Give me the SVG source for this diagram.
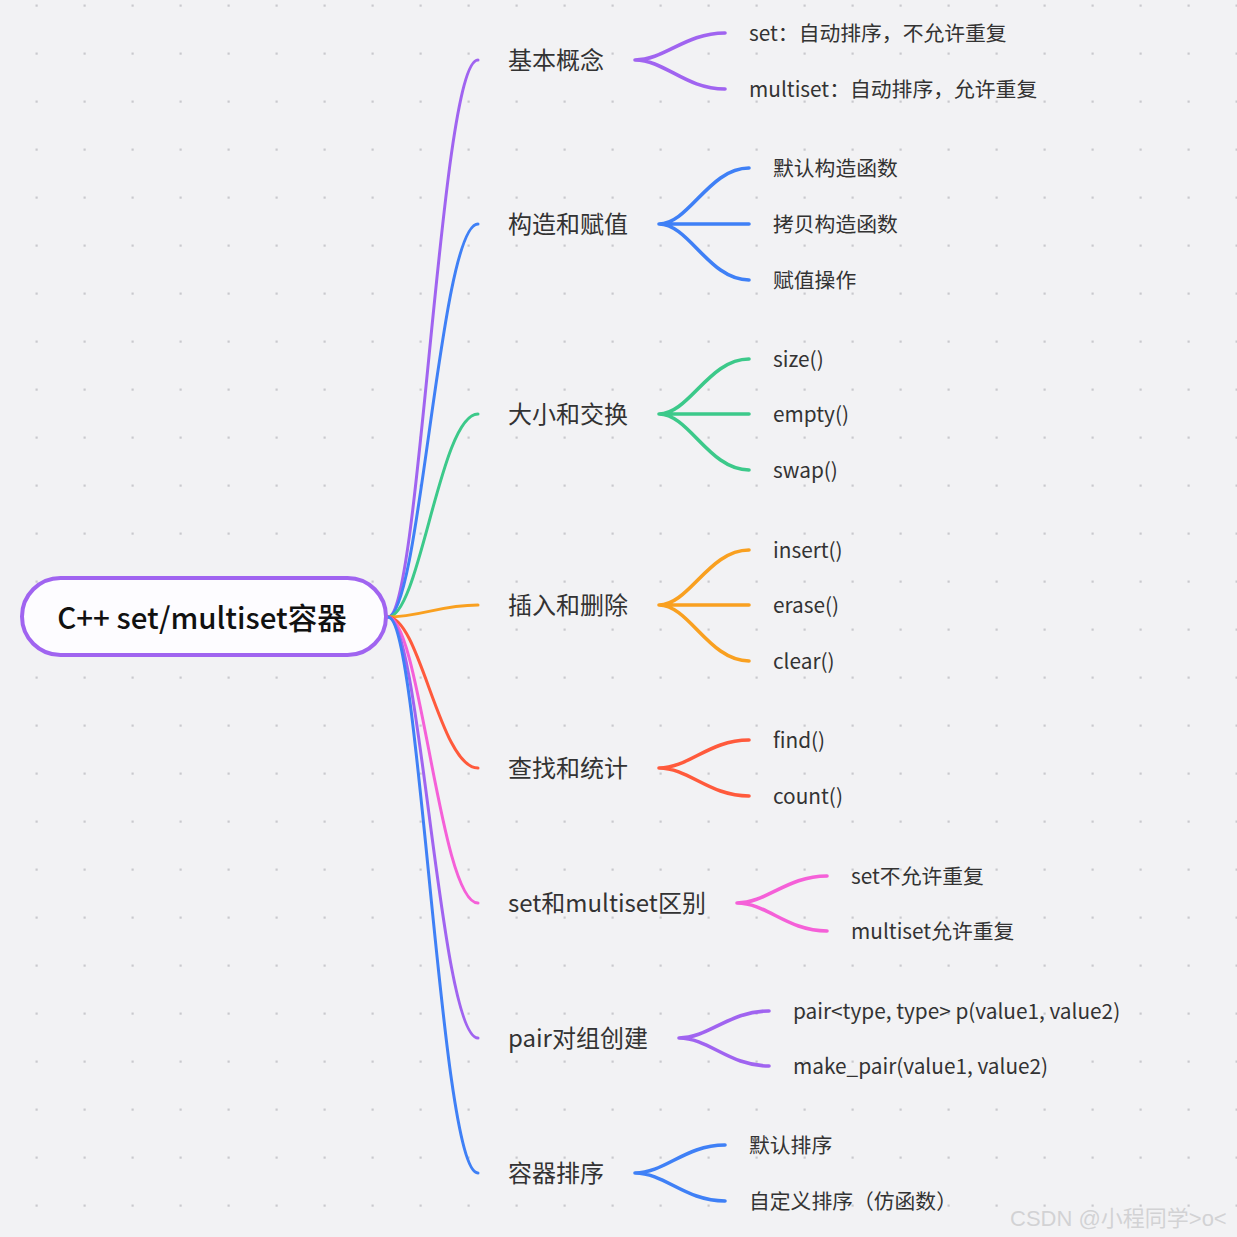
<svg xmlns="http://www.w3.org/2000/svg" width="1237" height="1237" viewBox="0 0 1237 1237">
<defs>
<pattern id="dots" x="0" y="0" width="48" height="48" patternUnits="userSpaceOnUse">
<rect x="35.5" y="4.5" width="2.2" height="2.2" fill="#c9c9cd"/>
</pattern>
<style>
.l1{font-family:"Noto Sans CJK SC","Noto Sans",sans-serif;font-size:24px;fill:#333333;}
.l2{font-family:"Noto Sans CJK SC","Noto Sans",sans-serif;font-size:20.8px;fill:#333333;}
.root{font-family:"Noto Sans CJK SC","Noto Sans",sans-serif;font-size:29.5px;font-weight:500;fill:#111111;}
.c{fill:none;stroke-width:3;stroke-linecap:round;}
.f{fill:none;stroke-width:3.6;stroke-linecap:round;}
.wm{font-family:"Liberation Sans","Noto Sans CJK SC",sans-serif;font-size:22px;fill:#d2d2d4;}
</style>
</defs>
<rect width="1237" height="1237" fill="#f2f2f4"/>
<rect width="1237" height="1237" fill="url(#dots)"/>
<g id="connectors">
<path class="c" stroke="#a064f0" d="M388,617 C420,617 440,60 478,60"/>
<path class="c" stroke="#3f80f6" d="M388,617 C420,617 440,224 478,224"/>
<path class="c" stroke="#3cc98a" d="M388,617 C420,617 440,414 478,414"/>
<path class="c" stroke="#f9a020" d="M388,617 C420,617 440,605 478,605"/>
<path class="c" stroke="#ff5a3c" d="M388,617 C420,617 440,768 478,768"/>
<path class="c" stroke="#f560d8" d="M388,617 C420,617 440,903 478,903"/>
<path class="c" stroke="#a064f0" d="M388,617 C420,617 440,1038 478,1038"/>
<path class="c" stroke="#3f80f6" d="M388,617 C420,617 440,1173 478,1173"/>
<path class="f" stroke="#a064f0" d="M635,60 C665,60 685,33 725,33 M635,60 C665,60 685,89 725,89"/>
<path class="f" stroke="#3f80f6" d="M659,224 C689,224 709,168 749,168 M659,224 L749,224 M659,224 C689,224 709,280 749,280"/>
<path class="f" stroke="#3cc98a" d="M659,414 C689,414 709,359 749,359 M659,414 L749,414 M659,414 C689,414 709,470 749,470"/>
<path class="f" stroke="#f9a020" d="M659,605 C689,605 709,550 749,550 M659,605 L749,605 M659,605 C689,605 709,661 749,661"/>
<path class="f" stroke="#ff5a3c" d="M659,768 C689,768 709,740 749,740 M659,768 C689,768 709,796 749,796"/>
<path class="f" stroke="#f560d8" d="M737,903 C767,903 787,876 827,876 M737,903 C767,903 787,931 827,931"/>
<path class="f" stroke="#a064f0" d="M679,1038 C709,1038 729,1011 769,1011 M679,1038 C709,1038 729,1066 769,1066"/>
<path class="f" stroke="#3f80f6" d="M635,1173 C665,1173 685,1145 725,1145 M635,1173 C665,1173 685,1201 725,1201"/>
</g>
<g id="root">
<rect x="22" y="578" width="364" height="77" rx="38.5" fill="#fdfcff" stroke="#a064f0" stroke-width="4"/>
<text class="root" x="202" y="629" text-anchor="middle">C++ set/multiset容器</text>
</g>
<g id="n1"><text class="l1" x="508" y="69">基本概念</text></g>
<g id="n1a"><text class="l2" x="749" y="41">set：自动排序，不允许重复</text></g>
<g id="n1b"><text class="l2" x="749" y="97">multiset：自动排序，允许重复</text></g>
<g id="n2"><text class="l1" x="508" y="233">构造和赋值</text></g>
<g id="n2a"><text class="l2" x="773" y="176">默认构造函数</text></g>
<g id="n2b"><text class="l2" x="773" y="232">拷贝构造函数</text></g>
<g id="n2c"><text class="l2" x="773" y="288">赋值操作</text></g>
<g id="n3"><text class="l1" x="508" y="423">大小和交换</text></g>
<g id="n3a"><text class="l2" x="773" y="367">size()</text></g>
<g id="n3b"><text class="l2" x="773" y="422">empty()</text></g>
<g id="n3c"><text class="l2" x="773" y="478">swap()</text></g>
<g id="n4"><text class="l1" x="508" y="614">插入和删除</text></g>
<g id="n4a"><text class="l2" x="773" y="558">insert()</text></g>
<g id="n4b"><text class="l2" x="773" y="613">erase()</text></g>
<g id="n4c"><text class="l2" x="773" y="669">clear()</text></g>
<g id="n5"><text class="l1" x="508" y="777">查找和统计</text></g>
<g id="n5a"><text class="l2" x="773" y="748">find()</text></g>
<g id="n5b"><text class="l2" x="773" y="804">count()</text></g>
<g id="n6"><text class="l1" x="508" y="912">set和multiset区别</text></g>
<g id="n6a"><text class="l2" x="851" y="884">set不允许重复</text></g>
<g id="n6b"><text class="l2" x="851" y="939">multiset允许重复</text></g>
<g id="n7"><text class="l1" x="508" y="1047">pair对组创建</text></g>
<g id="n7a"><text class="l2" x="793" y="1019">pair&lt;type, type&gt; p(value1, value2)</text></g>
<g id="n7b"><text class="l2" x="793" y="1074">make_pair(value1, value2)</text></g>
<g id="n8"><text class="l1" x="508" y="1182">容器排序</text></g>
<g id="n8a"><text class="l2" x="749" y="1153">默认排序</text></g>
<g id="n8b"><text class="l2" x="749" y="1209">自定义排序（仿函数）</text></g>
<text class="wm" x="1010" y="1226">CSDN @小程同学&gt;o&lt;</text>
</svg>
